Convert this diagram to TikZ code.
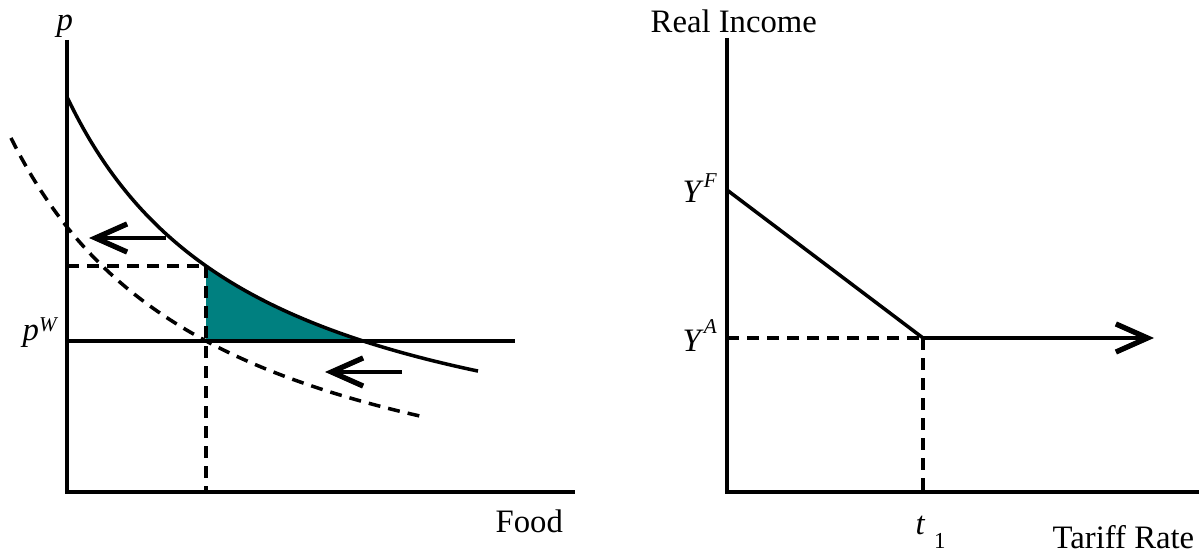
\documentclass[tikz,border=0pt]{standalone}
\usepackage{fontspec}
\setmainfont{Liberation Serif}
\usetikzlibrary{arrows.meta}

\newcommand{\supr}[2]{\raisebox{#1}{\fontsize{6}{7}\selectfont\itshape #2}}

\begin{document}
\begin{tikzpicture}[
            x=0.01cm, y=-0.01cm,
            axis/.style={line width=1pt},
            curve/.style={line width=1pt},
            guide/.style={line width=1pt, dash pattern=on 3.4pt off 2.3pt},
            shiftarrow/.style={line width=1pt, -{Straight Barb[length=9pt, width=8pt, line width=1.5pt]}},
            lbl/.style={inner sep=0pt, anchor=base west, font=\fontsize{9.3}{11}\selectfont}
        ]
        \useasboundingbox (0,0) rectangle (1199,552);

        % ======================================
        % Left panel: food market
        % ======================================
        \coordinate (L-top) at (67,40);
        \coordinate (L-orig) at (67,492);
        \coordinate (L-end) at (575,492);
        \coordinate (L-pw) at (67,341);
        \coordinate (L-pwend) at (515,341);
        \coordinate (L-p1) at (67,266);
        \coordinate (L-e1) at (206,266);
        \coordinate (L-e2) at (206,341);
        \coordinate (L-q1) at (206,492);

        % shaded loss
        \fill[teal] (L-e2) -- plot[domain=206:363, samples=50] (\x, {498.8-769.51/((\x+124.5)/100)}) -- cycle;

        % guides
        \draw[guide] (L-p1) -- (L-e1);
        \draw[guide] (L-e1) -- (L-q1);

        % curves
        \draw[curve] plot[domain=67:478, samples=100] (\x, {498.8-769.51/((\x+124.5)/100)});
        \draw[guide] plot[domain=11:424, samples=80] (\x, {557.4-871.96/((\x+196.9)/100)});
        \draw[axis] (L-pw) -- (L-pwend);

        % axes
        \draw[axis] (L-top) -- (L-orig) -- (L-end);

        % shifts
        \coordinate (A1-s) at (166,238);
        \coordinate (A1-e) at (89,238);
        \coordinate (A2-s) at (402,372);
        \coordinate (A2-e) at (325,372);
        \draw[shiftarrow] (A1-s) -- (A1-e);
        \draw[shiftarrow] (A2-s) -- (A2-e);

        % labels
        \node[lbl] (plab) at (56,31) {\textit{p}};
        \node[lbl] (pwlab) at (22,341) {\textit{p}\supr{2.6pt}{W}};
        \node[lbl] (food) at (495,533) {Food};

        % ======================================
        % Right panel: real income
        % ======================================
        \coordinate (R-top) at (727,38);
        \coordinate (R-orig) at (727,492);
        \coordinate (R-end) at (1199,492);
        \coordinate (R-yf) at (727,190);
        \coordinate (R-ya) at (727,338);
        \coordinate (R-kink) at (923,338);
        \coordinate (R-t1) at (923,492);
        \coordinate (R-tip) at (1154,338);

        \draw[guide] (R-ya) -- (R-kink);
        \draw[guide] (R-kink) -- (R-t1);
        \draw[curve] (R-yf) -- (R-kink);
        \draw[shiftarrow] (R-kink) -- (R-tip);
        \draw[axis] (R-top) -- (R-orig) -- (R-end);

        \node[lbl] (income) at (650,33) {Real Income};
        \node[lbl] (yflab) at (682,203) {\textit{Y}\supr{4.5pt}{F}};
        \node[lbl] (yalab) at (682,352) {\textit{Y}\supr{5.4pt}{A}};
        \node[lbl] (tlab) at (915,535) {\textit{t}\hspace{2.5pt}\raisebox{-3.7pt}{\fontsize{6.5}{7}\selectfont 1}};
        \node[lbl] (tariff) at (1052,549) {Tariff Rate};

    \end{tikzpicture}
\end{document}
